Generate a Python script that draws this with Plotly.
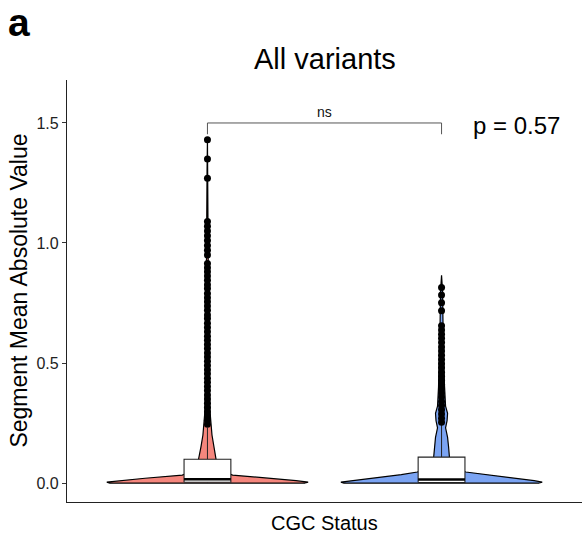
import plotly.graph_objects as go

# ---------------- data ----------------
groups = ["CGC", "non-CGC"]
group_pos = [1, 2]

# violin density profiles (value levels, relative half-width 0..1)
red_levels = [0.000, 0.004, 0.010, 0.020, 0.033, 0.050, 0.075, 0.100, 0.150, 0.200,
              0.250, 0.300, 0.400, 0.500, 0.700, 0.900, 1.100, 1.300, 1.430]
red_density = [0.97, 1.00, 0.88, 0.62, 0.25, 0.15, 0.10, 0.085, 0.065, 0.045,
               0.035, 0.025, 0.018, 0.014, 0.010, 0.008, 0.006, 0.004, 0.0]

blue_levels = [0.000, 0.004, 0.010, 0.020, 0.035, 0.046, 0.070, 0.100, 0.150, 0.190,
               0.230, 0.260, 0.290, 0.320, 0.400, 0.500, 0.650, 0.800, 0.865]
blue_density = [0.97, 1.00, 0.92, 0.72, 0.40, 0.24, 0.12, 0.08, 0.07, 0.06,
                0.04, 0.055, 0.06, 0.04, 0.03, 0.02, 0.015, 0.01, 0.0]

# box statistics [red, blue]
q1 = [0.003, 0.002]
median = [0.016, 0.015]
q3 = [0.099, 0.108]
lowerfence = [0.0, 0.0]
upperfence = [0.23, 0.27]

# outliers
red_outliers = [1.43, 1.35, 1.27, 1.09, 1.07, 1.05, 1.03, 1.01, 0.99, 0.97, 0.95,
                0.915, 0.897, 0.88, 0.862, 0.845, 0.826, 0.81, 0.79, 0.772, 0.755,
                0.738, 0.72, 0.70, 0.685, 0.666, 0.648, 0.63, 0.612, 0.595, 0.577,
                0.56, 0.542, 0.525, 0.507, 0.49, 0.472, 0.455, 0.437, 0.42, 0.402,
                0.385, 0.367, 0.35, 0.332, 0.315, 0.297, 0.28, 0.262, 0.245]
blue_outliers = [0.815, 0.783, 0.751, 0.718, 0.655, 0.638, 0.62, 0.603, 0.585,
                 0.567, 0.55, 0.532, 0.515, 0.497, 0.48, 0.462, 0.445, 0.428, 0.41,
                 0.393, 0.375, 0.358, 0.34, 0.323, 0.305, 0.288, 0.27, 0.253]

p_text = "p = 0.57"
sig_text = "ns"
bracket_y = 1.5

# ---------------- style ----------------
FONT = "Liberation Sans, Arial, sans-serif"
colors = ["#F5867D", "#7BA4F3"]
violin_halfwidth = 0.43
box_width = 0.2

fig = go.Figure()

profiles = [(red_levels, red_density), (blue_levels, blue_density)]
for i, (lv, dn) in enumerate(profiles):
    c = group_pos[i]
    xs = [c + d * violin_halfwidth for d in dn] + [c - d * violin_halfwidth for d in reversed(dn)]
    ys = list(lv) + list(reversed(lv))
    xs.append(xs[0]); ys.append(ys[0])
    fig.add_trace(go.Scatter(x=xs, y=ys, mode="lines", fill="toself",
                             fillcolor=colors[i], line=dict(color="black", width=1.2),
                             hoverinfo="skip", showlegend=False))

for i in range(2):
    c = group_pos[i]
    h = box_width / 2
    # whiskers
    fig.add_trace(go.Scatter(x=[c, c, None, c, c], y=[q3[i], upperfence[i], None, q1[i], lowerfence[i]],
                             mode="lines", line=dict(color="#222222", width=1),
                             hoverinfo="skip", showlegend=False))
    # box body
    fig.add_trace(go.Scatter(x=[c - h, c + h, c + h, c - h, c - h],
                             y=[q1[i], q1[i], q3[i], q3[i], q1[i]],
                             mode="lines", fill="toself", fillcolor="white",
                             line=dict(color="#222222", width=1.1),
                             hoverinfo="skip", showlegend=False))
    # median
    fig.add_trace(go.Scatter(x=[c - h, c + h], y=[median[i], median[i]],
                             mode="lines", line=dict(color="black", width=2.6),
                             hoverinfo="skip", showlegend=False))

for i, outs in enumerate([red_outliers, blue_outliers]):
    fig.add_trace(go.Scatter(x=[group_pos[i]] * len(outs), y=outs, mode="markers",
                             marker=dict(color="black", size=7),
                             hoverinfo="skip", showlegend=False))

# significance bracket
tip = 0.047
fig.add_trace(go.Scatter(x=[group_pos[0], group_pos[0], group_pos[1], group_pos[1]],
                         y=[bracket_y - tip, bracket_y, bracket_y, bracket_y - tip],
                         mode="lines", line=dict(color="#555555", width=1),
                         hoverinfo="skip", showlegend=False))
fig.add_annotation(x=(group_pos[0] + group_pos[1]) / 2, y=bracket_y, text=sig_text,
                   showarrow=False, yanchor="bottom", yshift=1,
                   font=dict(family=FONT, size=14, color="#111111"))
fig.add_annotation(x=2.32, y=1.4875, text=p_text, showarrow=False,
                   xanchor="center", yanchor="middle",
                   font=dict(family=FONT, size=24, color="black"))

# titles / labels
fig.add_annotation(xref="paper", yref="paper", x=-0.118, y=1.137, text="<b>a</b>",
                   showarrow=False, xanchor="left", yanchor="middle",
                   font=dict(family=FONT, size=39, color="black"))
fig.add_annotation(xref="paper", yref="paper", x=0.5, y=1.05, text="All variants",
                   showarrow=False, xanchor="center", yanchor="middle",
                   font=dict(family=FONT, size=29, color="black"))
fig.add_annotation(xref="paper", yref="paper", x=0.5, y=-0.05, text="CGC Status",
                   showarrow=False, xanchor="center", yanchor="middle",
                   font=dict(family=FONT, size=20, color="black"))
fig.add_annotation(xref="paper", yref="paper", x=-0.094, y=0.5,
                   text="Segment Mean Absolute Value", textangle=-90,
                   showarrow=False, xanchor="center", yanchor="middle",
                   font=dict(family=FONT, size=23, color="black"))

fig.update_layout(
    width=582, height=541,
    margin=dict(l=67, r=0, t=80, b=39),
    plot_bgcolor="white", paper_bgcolor="white",
    font=dict(family=FONT, color="black"),
    showlegend=False,
    xaxis=dict(range=[0.4, 2.6], showgrid=False, zeroline=False, showticklabels=False,
               ticks="", showline=True, linecolor="#222222", linewidth=1.2, fixedrange=True),
    yaxis=dict(range=[-0.079, 1.679], showgrid=False, zeroline=False,
               tickvals=[0.0, 0.5, 1.0, 1.5], ticktext=["0.0", "0.5", "1.0", "1.5"],
               ticks="outside", ticklen=4, tickcolor="#333333", tickwidth=1,
               tickfont=dict(family=FONT, size=16, color="#222222"),
               showline=True, linecolor="#222222", linewidth=1.2, fixedrange=True),
)

fig.write_html("out.html")
